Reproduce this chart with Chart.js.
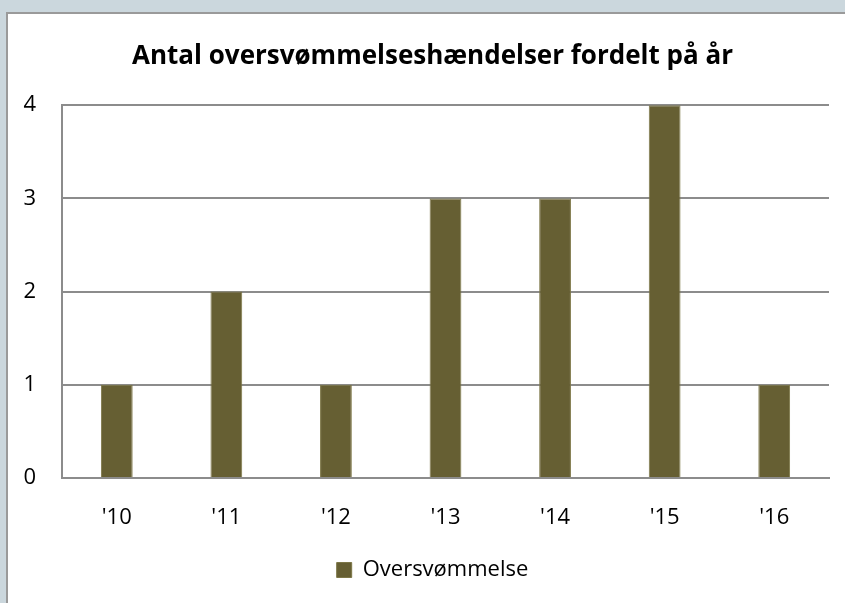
<!DOCTYPE html>
<html>
<head>
<meta charset="utf-8">
<script src="https://cdn.jsdelivr.net/npm/chart.js@4.4.0/dist/chart.umd.min.js"></script>
<style>
  html, body { margin: 0; padding: 0; }
  body { width: 845px; height: 603px; background: #cbd7dd; position: relative; overflow: hidden; }
  #frame { position: absolute; left: 6px; top: 12px; width: 845px; height: 600px;
    background: #fff; border-left: 2px solid #9a9a9a; border-top: 2px solid #9a9a9a; }
  #wrap { position: absolute; left: 0; top: 0; width: 845px; height: 603px; }
</style>
</head>
<body>
<div id="frame"></div>
<div id="wrap"><canvas id="floodChart" width="845" height="603"></canvas></div>
<script>
const years = ["'10", "'11", "'12", "'13", "'14", "'15", "'16"];
const floodCounts = [1, 2, 1, 3, 3, 4, 1];
const yTicks = [0, 1, 2, 3, 4];
const seriesName = "Oversvømmelse";
const chartTitle = "Antal oversvømmelseshændelser fordelt på år";

const fontFamily = "'Open Sans', Lato, sans-serif";
const gridColor = "#8c8c8c";

const ctx = document.getElementById("floodChart").getContext("2d");
const chart = new Chart(ctx, {
  type: "bar",
  data: {
    labels: years,
    datasets: [{
      label: seriesName,
      data: floodCounts,
      backgroundColor: "#665f33",
      borderColor: "#7d7748",
      borderWidth: 1,
      categoryPercentage: 1,
      barPercentage: 0.29
    }]
  },
  options: {
    responsive: false,
    animation: false,
    layout: { padding: { top: 0, right: 0, bottom: 12, left: 20 } },
    plugins: {
      title: {
        display: true,
        text: chartTitle,
        color: "#000",
        font: { family: fontFamily, size: 26, weight: "bold" },
        padding: { top: 41, bottom: 33 }
      },
      legend: {
        position: "bottom",
        labels: {
          color: "#000",
          font: { family: fontFamily, size: 22 },
          boxWidth: 15,
          boxHeight: 15,
          padding: 10
        }
      },
      tooltip: { enabled: false }
    },
    scales: {
      x: {
        grid: { display: false, drawTicks: false },
        border: { display: true, color: gridColor, width: 2 },
        ticks: { color: "#000", font: { family: fontFamily, size: 22 }, padding: 27 },
        afterFit: scale => { scale.height = 71; }
      },
      y: {
        min: 0,
        max: 4,
        afterBuildTicks: scale => { scale.ticks = yTicks.map(v => ({ value: v })); },
        grid: { color: gridColor, lineWidth: 2, drawTicks: false },
        border: { display: true, color: gridColor, width: 2 },
        ticks: { color: "#000", font: { family: fontFamily, size: 22 }, padding: 26, crossAlign: "center" },
        afterFit: scale => { scale.width = 42; }
      },
      // empty right axis, only keeps the plot's right edge in place
      yRight: {
        position: "right",
        min: 0,
        max: 4,
        grid: { display: false, drawTicks: false },
        border: { display: false },
        ticks: { display: false },
        afterFit: scale => { scale.width = 16; }
      }
    }
  }
});
</script>
</body>
</html>
